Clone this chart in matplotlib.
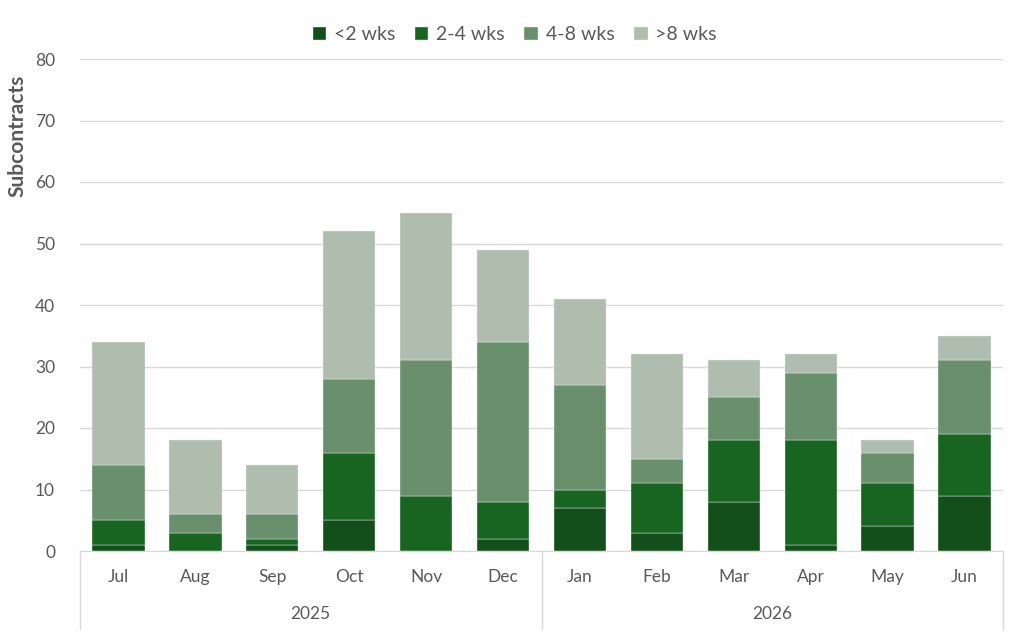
import matplotlib.pyplot as plt
import numpy as np

# data
months = ['Jul', 'Aug', 'Sep', 'Oct', 'Nov', 'Dec', 'Jan', 'Feb', 'Mar', 'Apr', 'May', 'Jun']
years = ['2025', '2026']
lt2 = [1, 0, 1, 5, 0, 2, 7, 3, 8, 1, 4, 9]
w2to4 = [4, 3, 1, 11, 9, 6, 3, 8, 10, 17, 7, 10]
w4to8 = [9, 3, 4, 12, 22, 26, 17, 4, 7, 11, 5, 12]
gt8 = [20, 12, 8, 24, 24, 15, 14, 17, 6, 3, 2, 4]

series = [('<2 wks', lt2, '#124f1a'),
          ('2-4 wks', w2to4, '#186421'),
          ('4-8 wks', w4to8, '#6a8f6c'),
          ('>8 wks', gt8, '#afbdaf')]

plt.rcParams['font.family'] = ['Lato', 'DejaVu Sans']
txt = '#595959'

fig = plt.figure(figsize=(10.24, 6.37), dpi=100)
ax = fig.add_axes([80/1024, 1-551/637, 923/1024, 492/637])

x = np.arange(len(months))
bottom = np.zeros(len(months))
for name, vals, col in series:
    ax.bar(x, vals, 0.68, bottom=bottom, color=col, label=name,
           edgecolor='#e8ece8', linewidth=0.3)
    bottom = bottom + np.array(vals)

ax.set_xlim(-0.5, len(months)-0.5)
ax.set_ylim(0, 80)
ax.set_yticks(range(0, 81, 10))
ax.tick_params(axis='y', length=0, labelsize=12.5, labelcolor=txt, pad=18)
ax.grid(axis='y', color='#d9d9d9', linewidth=1)
ax.set_axisbelow(True)
for s in ['top', 'right', 'left']:
    ax.spines[s].set_visible(False)
ax.spines['bottom'].set_color('#d9d9d9')

ax.set_xticks(x)
ax.set_xticklabels(months)
ax.tick_params(axis='x', length=0, labelsize=12.5, labelcolor=txt, pad=13)

# year group labels and separators
for i, yr in enumerate(years):
    ax.text(i*6 + 2.5, -10.3, yr, ha='center', va='center', fontsize=12.5,
            color=txt, transform=ax.transData, clip_on=False)
for xs in [-0.5, 5.5, 11.5]:
    ax.plot([xs, xs], [0, -12.7], color='#d9d9d9', linewidth=1, clip_on=False)

ax.set_ylabel('Subcontracts', fontsize=15, fontweight='bold', color=txt)
ax.yaxis.set_label_coords(-0.057, 0.843)

leg = ax.legend(loc='center', bbox_to_anchor=(0.471, 1.049), ncol=4, frameon=False,
                fontsize=14, handlelength=0.7, handleheight=0.7, handletextpad=0.4,
                columnspacing=1.0)
for t in leg.get_texts():
    t.set_color(txt)

fig.savefig('out.png', dpi=100)
